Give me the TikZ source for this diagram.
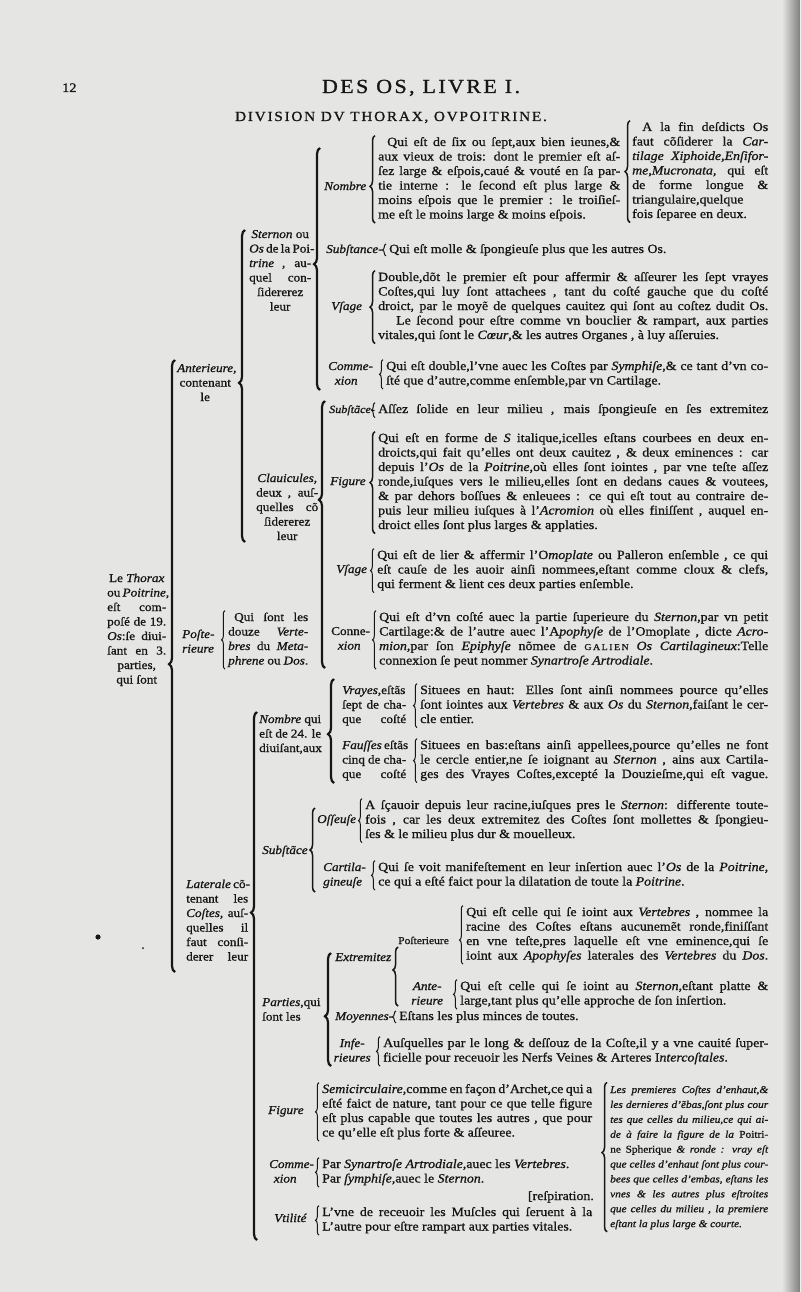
\documentclass[tikz,border=0pt]{standalone}
\usepackage{fontspec}
\setmainfont[FakeStretch=1.1,FakeBold=1]{Liberation Serif}
\newfontfamily\headfont[LetterSpace=12,FakeStretch=1.1,FakeBold=1]{Liberation Serif}
\usetikzlibrary{decorations.pathreplacing}
\definecolor{pagebg}{RGB}{229,229,227}
\definecolor{ink}{RGB}{22,22,22}
\newcommand\txtcol[2]{\vtop{\hsize=#1pt\relax #2}}
\newcommand\jln[1]{\hbox to\hsize{\strut #1}}
\newcommand\eln[1]{\hbox to\hsize{\strut #1\hfil}}
\newcommand\mln[1]{\hbox to\hsize{\strut\hfil #1\hfil}}
\tikzset{
  txt/.style = {inner sep=0pt, anchor=base west, text=ink},
  lbl/.style = {txt, font=\fontsize{12}{14.5}\selectfont},
  hbrace/.style = {decorate, decoration={brace, amplitude=6pt, aspect=#1}, line width=2.2pt, draw=ink},
  hbrace/.default = 0.5,
  mbrace/.style = {decorate, decoration={brace, amplitude=5pt, aspect=#1}, line width=1.5pt, draw=ink},
  mbrace/.default = 0.5,
  sbrace/.style = {decorate, decoration={brace, amplitude=3.5pt, aspect=#1}, line width=1pt, draw=ink},
  sbrace/.default = 0.5,
}
\begin{document}
\begin{tikzpicture}[x=1pt, y=-1pt, font=\fontsize{12.6}{14.5}\selectfont]
  \useasboundingbox (0,0) rectangle (800,1292);
  \fill [pagebg] (0,0) rectangle (800,1292);
  \shade [left color=pagebg, right color=black!50] (782,0) rectangle (800,1292);

  \node [txt] (pagenum) at (62,92) {\fontsize{13}{14}\selectfont 12};
  \node [txt, anchor=base] (livre) at (421,93) {\headfont\fontsize{20}{21}\selectfont DES OS, LIVRE I.};
  \node [txt, anchor=base] (division) at (391,121) {\headfont\fontsize{14}{15}\selectfont DIVISION DV THORAX, OVPOITRINE.};

  % Sternon
  \node [txt] (nombreT) at (378,146) {\txtcol{242}{%
    \jln{\hskip 9pt Qui eſt de ſix ou ſept,aux bien ieunes,\&}
    \jln{aux vieux de trois: dont le premier eſt aſ-}
    \jln{ſez large \& eſpois,caué \& vouté en ſa par-}
    \jln{tie interne : le ſecond eſt plus large \&}
    \jln{moins eſpois que le premier : le troiſieſ-}
    \eln{me eſt le moins large \& moins eſpois.}}};
  \node [txt] (xiphoT) at (632,131) {\txtcol{136}{%
    \jln{\hskip 10pt A la fin deſdicts Os}
    \jln{faut cõſiderer la \textit{Car-}}
    \jln{\textit{tilage Xiphoide,Enſifor-}}
    \jln{\textit{me,Mucronata,} qui eſt}
    \jln{de forme longue \&}
    \jln{triangulaire,quelque}
    \eln{fois ſeparee en deux.}}};
  \node [lbl] (nombreL) at (324,190) {\textit{Nombre}};
  \node [lbl] (sterL) at (249,238) {\txtcol{62}{%
    \mln{\textit{Sternon} ou}
    \jln{\textit{Os} de la Poi-}
    \jln{\textit{trine} , au-}
    \jln{quel con-}
    \mln{ſidererez}
    \mln{leur}}};
  \node [lbl] (subsL) at (326,253) {\textit{Subſtance}-};
  \node [txt] (subsT) at (389,253) {Qui eſt molle \& ſpongieuſe plus que les autres Os.};
  \node [lbl] (vsageL) at (331,310) {\textit{Vſage}};
  \node [txt] (vsageT) at (378,281) {\txtcol{390}{%
    \jln{Double,dõt le premier eſt pour affermir \& aſſeurer les ſept vrayes}
    \jln{Coſtes,qui luy ſont attachees , tant du coſté gauche que du coſté}
    \jln{droict, par le moyẽ de quelques cauitez qui ſont au coſtez dudit Os.}
    \jln{\hskip 18pt Le ſecond pour eſtre comme vn bouclier \& rampart, aux parties}
    \eln{vitales,qui ſont le \textit{Cœur},\& les autres Organes , à luy aſſeruies.}}};
  \node [lbl] (connL) at (328,370) {\txtcol{36}{\mln{\textit{Comme-}}\mln{\textit{xion}}}};
  \node [txt] (connT) at (386,370) {\txtcol{382}{%
    \jln{Qui eſt double,l'vne auec les Coſtes par \textit{Symphiſe},\& ce tant d'vn co-}
    \eln{ſté que d'autre,comme enſemble,par vn Cartilage.}}};
  \node [lbl] (anterL) at (177,372) {\txtcol{56}{\mln{\textit{Anterieure,}}\mln{contenant}\mln{le}}};

  % Clauicules
  \node [lbl] (clavL) at (256,482) {\txtcol{62}{%
    \mln{\textit{Clauicules,}}
    \jln{deux , auſ-}
    \jln{quelles cõ}
    \mln{ſidererez}
    \mln{leur}}};
  \node [lbl] (subs2L) at (329,413) {\fontsize{11}{13}\selectfont\textit{Subſtãce}-};
  \node [txt] (subs2T) at (378,413) {\txtcol{390}{\jln{Aſſez ſolide en leur milieu , mais ſpongieuſe en ſes extremitez}}};
  \node [lbl] (figL) at (330,485) {\textit{Figure}};
  \node [txt] (figT) at (378,442) {\txtcol{390}{%
    \jln{Qui eſt en forme de \textit{S} italique,icelles eſtans courbees en deux en-}
    \jln{droicts,qui fait qu'elles ont deux cauitez , \& deux eminences : car}
    \jln{depuis l'\textit{Os} de la \textit{Poitrine},où elles ſont iointes , par vne teſte aſſez}
    \jln{ronde,iuſques vers le milieu,elles ſont en dedans caues \& voutees,}
    \jln{\& par dehors boſſues \& enleuees : ce qui eſt tout au contraire de-}
    \jln{puis leur milieu iuſques à l'\textit{Acromion} où elles finiſſent , auquel en-}
    \eln{droict elles ſont plus larges \& applaties.}}};
  \node [lbl] (vsage2L) at (336,573) {\textit{Vſage}};
  \node [txt] (vsage2T) at (377,559) {\txtcol{391}{%
    \jln{Qui eſt de lier \& affermir l'O\textit{moplate} ou Palleron enſemble , ce qui}
    \jln{eſt cauſe de les auoir ainſi nommees,eſtant comme cloux \& clefs,}
    \eln{qui ferment \& lient ces deux parties enſemble.}}};
  \node [lbl] (conn2L) at (331,635) {\txtcol{36}{\mln{Conne-}\mln{\textit{xion}}}};
  \node [txt] (conn2T) at (379,621) {\txtcol{389}{%
    \jln{Qui eſt d'vn coſté auec la partie ſuperieure du \textit{Sternon},par vn petit}
    \jln{Cartilage:\& de l'autre auec l'A\textit{pophyſe} de l'Omoplate , dicte \textit{Acro-}}
    \jln{\textit{mion},par ſon \textit{Epiphyſe} nõmee de {\small G\,A\,L\,I\,E\,N} \textit{Os Cartilagineux}:Telle}
    \eln{connexion ſe peut nommer \textit{Synartroſe Artrodiale}.}}};

  % Poſterieure
  \node [lbl] (postL) at (182,638) {\txtcol{27}{\mln{\textit{Poſte-}}\mln{\textit{rieure}}}};
  \node [lbl] (postT) at (228,621) {\txtcol{80}{%
    \jln{\hskip 6pt Qui ſont les}
    \jln{douze \textit{Verte-}}
    \jln{\textit{bres} du \textit{Meta-}}
    \eln{\textit{phrene} ou \textit{Dos}.}}};
  \node [lbl] (thoraxL) at (107,582) {\txtcol{59}{%
    \mln{Le \textit{Thorax}}
    \jln{ou \textit{Poitrine},}
    \jln{eſt com-}
    \jln{poſé de 19.}
    \jln{\textit{Os}:ſe diui-}
    \jln{ſant en 3.}
    \mln{parties,}
    \mln{qui ſont}}};

  % Laterale
  \node [lbl] (lateralL) at (186,888) {\txtcol{62}{%
    \jln{\textit{Laterale} cõ-}
    \jln{tenant les}
    \jln{\textit{Coſtes}, auſ-}
    \jln{quelles il}
    \jln{faut conſi-}
    \jln{derer leur}}};
  \node [lbl] (nombre2L) at (259,723) {\txtcol{62}{%
    \jln{\textit{Nombre} qui}
    \jln{eſt de 24. le}
    \jln{diuiſant,aux}}};
  \node [lbl] (vrayL) at (342,694) {\txtcol{64}{\jln{\textit{Vrayes},eſtãs}\jln{ſept de cha-}\jln{que coſté}}};
  \node [txt] (vrayT) at (420,694) {\txtcol{348}{%
    \jln{Situees en haut: Elles ſont ainſi nommees pource qu'elles}
    \jln{ſont iointes aux \textit{Vertebres} \& aux \textit{Os} du \textit{Sternon},faiſant le cer-}
    \eln{cle entier.}}};
  \node [lbl] (faulL) at (342,749) {\txtcol{64}{\jln{\textit{Fauſſes} eſtãs}\jln{cinq de cha-}\jln{que coſté}}};
  \node [txt] (faulT) at (420,749) {\txtcol{348}{%
    \jln{Situees en bas:eſtans ainſi appellees,pource qu'elles ne font}
    \jln{le cercle entier,ne ſe ioignant au \textit{Sternon} , ains aux Cartila-}
    \jln{ges des Vrayes Coſtes,excepté la Douzieſme,qui eſt vague.}}};
  \node [lbl] (subs3L) at (262,854) {\textit{Subſtãce}};
  \node [lbl] (osseL) at (317,823) {\textit{Oſſeuſe}};
  \node [txt] (osseT) at (365,809) {\txtcol{403}{%
    \jln{A ſçauoir depuis leur racine,iuſques pres le \textit{Sternon}: differente toute-}
    \jln{fois , car les deux extremitez des Coſtes ſont mollettes \& ſpongieu-}
    \eln{ſes \& le milieu plus dur \& mouelleux.}}};
  \node [lbl] (cartL) at (323,871) {\txtcol{38}{\mln{\textit{Cartila-}}\mln{\textit{gineuſe}}}};
  \node [txt] (cartT) at (378,871) {\txtcol{390}{%
    \jln{Qui ſe voit manifeſtement en leur inſertion auec l'\textit{Os} de la \textit{Poitrine},}
    \eln{ce qui a eſté faict pour la dilatation de toute la \textit{Poitrine}.}}};
  \node [lbl] (partL) at (262,1006) {\txtcol{60}{\jln{\textit{Parties},qui}\eln{ſont les}}};
  \node [lbl] (extrL) at (335,961) {\textit{Extremitez}};
  \node [txt] (postcL) at (398,944) {\fontsize{10.5}{12}\selectfont Poſterieure};
  \node [txt] (postcT) at (466,916) {\txtcol{302}{%
    \jln{Qui eſt celle qui ſe ioint aux \textit{Vertebres} , nommee la}
    \jln{racine des Coſtes eſtans aucunemẽt ronde,finiſſant}
    \jln{en vne teſte,pres laquelle eſt vne eminence,qui ſe}
    \jln{ioint aux \textit{Apophyſes} laterales des \textit{Vertebres} du \textit{Dos}.}}};
  \node [lbl] (anteL) at (410,990) {\txtcol{34}{\mln{\textit{Ante-}}\mln{\textit{rieure}}}};
  \node [txt] (anteT) at (460,990) {\txtcol{308}{%
    \jln{Qui eſt celle qui ſe ioint au \textit{Sternon},eſtant platte \&}
    \eln{large,tant plus qu'elle approche de ſon inſertion.}}};
  \node [lbl] (moyL) at (335,1020) {\textit{Moyennes}-};
  \node [txt] (moyT) at (399,1020) {Eſtans les plus minces de toutes.};
  \node [lbl] (infL) at (332,1047) {\txtcol{40}{\mln{\textit{Infe-}}\mln{\textit{rieures}}}};
  \node [txt] (infT) at (383,1047) {\txtcol{385}{%
    \jln{Auſquelles par le long \& deſſouz de la Coſte,il y a vne cauité ſuper-}
    \eln{ficielle pour receuoir les Nerfs Veines \& Arteres I\textit{ntercoſtales}.}}};
  \node [lbl] (figcL) at (268,1114) {\textit{Figure}};
  \node [txt] (figcT) at (322,1093) {\txtcol{270}{%
    \jln{\textit{Semicirculaire},comme en façon d'Archet,ce qui a}
    \jln{eſté faict de nature, tant pour ce que telle figure}
    \jln{eſt plus capable que toutes les autres , que pour}
    \eln{ce qu'elle eſt plus forte \& aſſeuree.}}};
  \node [txt] (premT) at (610,1093) {\fontsize{10.3}{14.9}\selectfont\txtcol{158}{\itshape
    \jln{Les premieres Coſtes d'enhaut,\&}
    \jln{les dernieres d'ẽbas,ſont plus cour}
    \jln{tes que celles du milieu,ce qui ai-}
    \jln{de à faire la figure de la \textup{Poitri-}}
    \jln{\textup{ne Spherique} \& ronde : vray eſt}
    \jln{que celles d'enhaut ſont plus cour-}
    \jln{bees que celles d'embas, eſtans les}
    \jln{vnes \& les autres plus eſtroites}
    \jln{que celles du milieu , la premiere}
    \eln{eſtant la plus large \& courte.}}};
  \node [lbl] (conn3L) at (269,1168) {\txtcol{32}{\mln{\textit{Comme-}}\mln{\textit{xion}}}};
  \node [txt] (conn3T) at (322,1168) {\txtcol{270}{%
    \eln{Par \textit{Synartroſe Artrodiale},auec les \textit{Vertebres}.}
    \eln{Par \textit{ſymphiſe},auec le \textit{Sternon}.}}};
  \node [txt, anchor=base east] (respT) at (594,1200) {[reſpiration.};
  \node [lbl] (vtilL) at (274,1222) {\textit{Vtilité}};
  \node [txt] (vtilT) at (322,1216) {\txtcol{270}{%
    \jln{L'vne de receuoir les Muſcles qui ſeruent à la}
    \eln{L'autre pour eſtre rampart aux parties vitales.}}};

  \coordinate (sterBot) at (320,390);
  \coordinate (sterTop) at (320,148);
  \coordinate (anterBot) at (245,542);
  \coordinate (anterTop) at (245,230);
  \coordinate (clavBot) at (325,668);
  \coordinate (clavTop) at (325,401);
  \coordinate (thoraxBot) at (175,972);
  \coordinate (thoraxTop) at (175,360);
  \coordinate (lateralBot) at (257,1240);
  \coordinate (lateralTop) at (257,712);
  \coordinate (nombre2Bot) at (334,783);
  \coordinate (nombre2Top) at (334,679);
  \coordinate (subs3Bot) at (315,892);
  \coordinate (subs3Top) at (315,808);
  \coordinate (partBot) at (331,1066);
  \coordinate (partTop) at (331,953);
  \coordinate (extrBot) at (398,1006);
  \coordinate (extrTop) at (398,947);

  \draw [hbrace=0.503] (thoraxBot) -- (thoraxTop);
  \draw [hbrace=0.51] (anterBot) -- (anterTop);
  \draw [hbrace=0.52] (sterBot) -- (sterTop);
  \draw [hbrace=0.63] (clavBot) -- (clavTop);
  \draw [hbrace=0.62] (lateralBot) -- (lateralTop);
  \draw [hbrace=0.47] (nombre2Bot) -- (nombre2Top);
  \draw [hbrace=0.44] (partBot) -- (partTop);
  \draw [mbrace] (subs3Bot) -- (subs3Top);
  \draw [mbrace=0.61] (extrBot) -- (extrTop);

  \draw [mbrace=0.42] ([xshift=-3pt]nombreT.south west) -- ([xshift=-3pt]nombreT.north west);
  \draw [mbrace] ([xshift=-2pt]xiphoT.south west) -- ([xshift=-2pt]xiphoT.north west);
  \draw [sbrace] ([xshift=-3pt]subsT.south west) -- ([xshift=-3pt]subsT.north west);
  \draw [mbrace] ([xshift=-3pt]vsageT.south west) -- ([xshift=-3pt]vsageT.north west);
  \draw [sbrace] ([xshift=-3pt]connT.south west) -- ([xshift=-3pt]connT.north west);
  \draw [sbrace] ([xshift=-3pt]subs2T.south west) -- ([xshift=-3pt]subs2T.north west);
  \draw [mbrace] ([xshift=-3pt]figT.south west) -- ([xshift=-3pt]figT.north west);
  \draw [sbrace] ([xshift=-3pt]vsage2T.south west) -- ([xshift=-3pt]vsage2T.north west);
  \draw [sbrace] ([xshift=-3pt]conn2T.south west) -- ([xshift=-3pt]conn2T.north west);
  \draw [sbrace] ([xshift=-3pt]postT.south west) -- ([xshift=-3pt]postT.north west);
  \draw [sbrace] ([xshift=-3pt]vrayT.south west) -- ([xshift=-3pt]vrayT.north west);
  \draw [sbrace] ([xshift=-3pt]faulT.south west) -- ([xshift=-3pt]faulT.north west);
  \draw [sbrace] ([xshift=-3pt]osseT.south west) -- ([xshift=-3pt]osseT.north west);
  \draw [sbrace] ([xshift=-3pt]cartT.south west) -- ([xshift=-3pt]cartT.north west);
  \draw [sbrace=0.41] ([xshift=-3pt]postcT.south west) -- ([xshift=-3pt]postcT.north west);
  \draw [sbrace] ([xshift=-3pt]anteT.south west) -- ([xshift=-3pt]anteT.north west);
  \draw [sbrace] ([xshift=-3pt]moyT.south west) -- ([xshift=-3pt]moyT.north west);
  \draw [sbrace] ([xshift=-3pt]infT.south west) -- ([xshift=-3pt]infT.north west);
  \draw [sbrace] ([xshift=-3pt]figcT.south west) -- ([xshift=-3pt]figcT.north west);
  \draw [mbrace=0.53] ([xshift=-3pt]premT.south west) -- ([xshift=-3pt]premT.north west);
  \draw [sbrace] ([xshift=-3pt]conn3T.south west) -- ([xshift=-3pt]conn3T.north west);
  \draw [sbrace] ([xshift=-3pt]vtilT.south west) -- ([xshift=-3pt]vtilT.north west);

  \fill [ink] (98,937) circle [radius=2.6];
  \fill [ink] (143,948) circle [radius=1];
\end{tikzpicture}
\end{document}
